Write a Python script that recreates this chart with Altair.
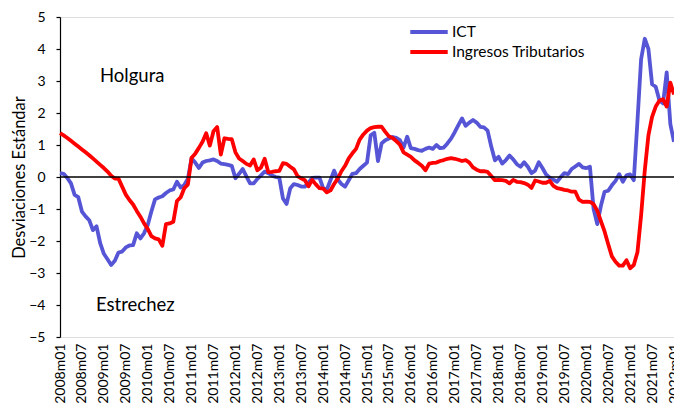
import altair as alt
import pandas as pd

# ---- categories (monthly periods 2008m01 .. 2022m01) ----
years = list(range(2008, 2022))
months = ["01", "02", "03", "04", "05", "06", "07", "08", "09", "10", "11", "12"]
periods = [f"{y}m{m}" for y in years for m in months] + ["2022m01"]
tick_labels = [p for p in periods if p.endswith("m01") or p.endswith("m07")]

series_names = ["ICT", "Ingresos Tributarios"]
series_colors = ["#5555D6", "#FF0000"]
annotations = ["Holgura", "Estrechez"]
y_ticks = [-5, -4, -3, -2, -1, 0, 1, 2, 3, 4, 5]

ict = [
    0.12, 0.10, -0.03, -0.20, -0.56, -0.63, -1.08, -1.23, -1.35, -1.66, -1.54, -2.07,
    -2.40, -2.57, -2.75, -2.62, -2.36, -2.33, -2.20, -2.14, -2.13, -1.76, -1.92, -1.76,
    -1.50, -1.08, -0.70, -0.64, -0.60, -0.50, -0.42, -0.39, -0.15, -0.33, -0.25, -0.05,
    0.58, 0.45, 0.28, 0.45, 0.50, 0.52, 0.55, 0.50, 0.42, 0.40, 0.38, 0.35,
    -0.04, 0.10, 0.25, 0.02, -0.20, -0.20, -0.06, 0.05, 0.17, 0.12, 0.05, 0.00,
    -0.02, -0.67, -0.84, -0.35, -0.22, -0.25, -0.30, -0.30, -0.18, -0.03, -0.02, -0.02,
    -0.35, -0.40, -0.10, 0.20, -0.08, -0.22, -0.30, -0.10, 0.10, 0.12, 0.25, 0.35,
    0.45, 1.30, 1.38, 0.50, 1.05, 1.15, 1.20, 1.25, 1.22, 1.15, 0.92, 1.26,
    0.90, 0.88, 0.84, 0.82, 0.88, 0.92, 0.88, 1.00, 0.90, 0.92, 1.05, 1.20,
    1.40, 1.62, 1.83, 1.60, 1.70, 1.78, 1.70, 1.57, 1.55, 1.45, 0.95, 0.52,
    0.63, 0.42, 0.53, 0.67, 0.55, 0.40, 0.32, 0.46, 0.32, 0.12, 0.20, 0.46,
    0.28, 0.08, -0.02, -0.08, -0.15, 0.00, 0.12, 0.09, 0.25, 0.33, 0.41, 0.30,
    0.28, 0.32, -1.00, -1.47, -0.90, -0.46, -0.43, -0.26, -0.12, 0.09, -0.15, 0.05,
    0.08, -0.10, 1.75, 3.68, 4.32, 4.00, 2.90, 2.82, 2.40, 2.30, 3.27, 1.65,
    1.10,
]

ingresos = [
    1.37, 1.30, 1.22, 1.13, 1.04, 0.95, 0.86, 0.77, 0.68, 0.58, 0.48, 0.38,
    0.28, 0.17, 0.04, -0.05, -0.05, -0.30, -0.55, -0.72, -0.86, -1.06, -1.24, -1.45,
    -1.62, -1.85, -1.92, -1.95, -2.15, -1.47, -1.45, -1.40, -0.75, -0.64, -0.35, -0.23,
    0.60, 0.73, 0.91, 1.10, 1.37, 0.98, 1.43, 1.56, 0.70, 1.21, 1.19, 1.18,
    0.77, 0.58, 0.50, 0.41, 0.36, 0.55, 0.21, 0.30, 0.57, 0.15, 0.16, 0.18,
    0.19, 0.43, 0.41, 0.32, 0.24, 0.03, -0.04, -0.10, -0.29, -0.09, -0.23, -0.35,
    -0.36, -0.48, -0.42, -0.22, -0.05, 0.18, 0.35, 0.58, 0.74, 0.88, 1.17, 1.33,
    1.45, 1.53, 1.56, 1.57, 1.57, 1.41, 1.27, 1.22, 1.12, 1.01, 0.77, 0.70,
    0.63, 0.52, 0.44, 0.35, 0.21, 0.42, 0.44, 0.45, 0.50, 0.53, 0.57, 0.59,
    0.57, 0.54, 0.50, 0.53, 0.45, 0.30, 0.23, 0.18, 0.18, 0.16, 0.03, -0.10,
    -0.09, -0.10, -0.12, -0.20, -0.09, -0.15, -0.16, -0.19, -0.24, -0.34, -0.11, -0.14,
    -0.18, -0.18, -0.12, -0.28, -0.35, -0.37, -0.40, -0.42, -0.46, -0.46, -0.71, -0.78,
    -0.77, -0.78, -0.85, -1.05, -1.38, -1.70, -2.10, -2.48, -2.65, -2.77, -2.77, -2.60,
    -2.85, -2.75, -2.35, -1.20, 0.20, 1.30, 1.88, 2.20, 2.38, 2.43, 2.20, 2.95,
    2.58,
]

df = pd.DataFrame({
    "period": periods * 2,
    "serie": [series_names[0]] * len(ict) + [series_names[1]] * len(ingresos),
    "value": ict + ingresos,
})

FONT = "Lato"
W, H = 614, 320
y_scale = alt.Scale(domain=[-5, 5], nice=False, zero=False)

x_enc = alt.X(
    "period:O",
    sort=periods,
    scale=alt.Scale(type="point", padding=0),
    axis=alt.Axis(
        values=tick_labels, labelAngle=-90, title=None, domain=False, ticks=False,
        tickSize=0, labelPadding=6, labelFontSize=14, labelColor="#000000",
        labelFont=FONT, grid=False, labelOverlap=False,
    ),
)
y_enc = alt.Y(
    "value:Q",
    scale=y_scale,
    axis=alt.Axis(
        values=y_ticks, title="Desviaciones Estándar", grid=False,
        domainColor="#000000", domainWidth=1.2, tickColor="#000000", tickSize=4,
        tickWidth=1.2, labelPadding=11, labelFontSize=14, labelColor="#000000",
        labelFont=FONT, labelOverlap=False, titleFont=FONT, titleFontSize=16.5,
        titleFontWeight="normal", titleColor="#000000", titleX=-33, titleY=160,
    ),
)

lines = alt.Chart(df).mark_line(strokeWidth=3.8, strokeJoin="round").encode(
    x=x_enc,
    y=y_enc,
    color=alt.Color(
        "serie:N",
        scale=alt.Scale(domain=series_names, range=series_colors),
        legend=alt.Legend(
            title=None, orient="none", legendX=348, legendY=7, symbolType="stroke",
            symbolSize=1400, symbolStrokeWidth=4, labelFontSize=15.5, labelFont=FONT,
            labelColor="#000000", labelOffset=2, clipHeight=16, rowPadding=3,
            padding=0,
        ),
    ),
)

zero_rule = alt.Chart(pd.DataFrame({"value": [0]})).mark_rule(
    color="#000000", strokeWidth=1.3
).encode(y=y_enc)

ann_df = pd.DataFrame({"t": annotations})
holgura = alt.Chart(ann_df[ann_df.t == annotations[0]]).mark_text(
    align="left", baseline="middle", fontSize=18.5, font=FONT, color="#000000"
).encode(text="t:N", x=alt.value(40), y=alt.value(59))
estrechez = alt.Chart(ann_df[ann_df.t == annotations[1]]).mark_text(
    align="left", baseline="middle", fontSize=18.5, font=FONT, color="#000000"
).encode(text="t:N", x=alt.value(36), y=alt.value(288))

chart = alt.layer(lines, zero_rule, holgura, estrechez).properties(
    width=W, height=H,
    autosize=alt.AutoSizeParams(type="none"),
    padding={"left": 52, "top": 9, "right": 0, "bottom": 70},
).configure_view(stroke=None).configure(font=FONT).configure_axisY(
    labelOverlap=False
)

chart.save("out.html", embed_options={"renderer": "svg", "actions": False})
